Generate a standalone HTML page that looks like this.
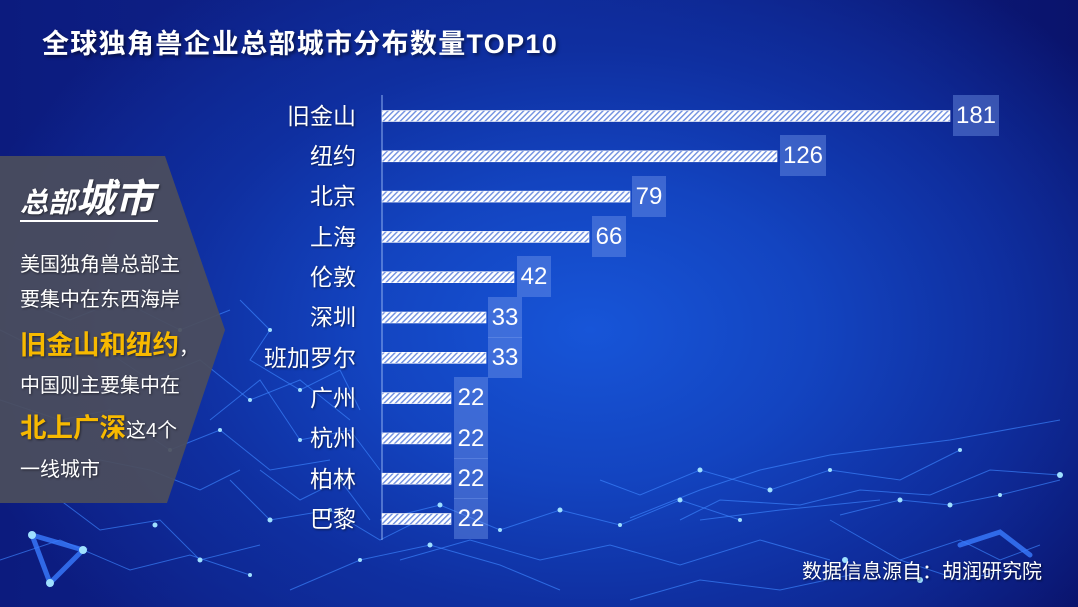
<!DOCTYPE html>
<html>
<head>
<meta charset="utf-8">
<style>
  html, body { margin:0; padding:0; }
  body { width:1078px; height:607px; overflow:hidden; position:relative;
    background:
      radial-gradient(ellipse 640px 430px at 590px 330px, #1755d8 0%, #1344c0 35%, #0f2fa0 65%, rgba(12,28,128,0) 100%),
      linear-gradient(90deg, #0c1b7e 0%, #0f2690 50%, #0a136c 100%);
    font-family: "Liberation Sans", "Noto Sans CJK SC", sans-serif; color:#fff; }
  .abs { position:absolute; white-space:nowrap; }
  .title { left:42px; top:27px; font-size:27px; font-weight:bold; line-height:34px; letter-spacing:1.3px;
    text-shadow: 2px 2px 3px rgba(0,0,0,0.5); }
  .cat { right:722px; font-size:23px; line-height:30px; text-align:right; text-shadow:1px 1px 2px rgba(0,0,0,0.55); }
  .val { font-size:24px; line-height:41px; height:41px; text-align:center; background:rgba(120,155,235,0.42); }
  .ptxt { left:20px; font-size:20px; line-height:26px; text-shadow:1px 1px 2px rgba(0,0,0,0.5); }
  .yel { color:#f7b900; font-weight:bold; font-size:26.5px; }
  .src { left:802px; top:558px; font-size:20px; line-height:28px; text-shadow:1px 1px 2px rgba(0,0,0,0.6); }
</style>
</head>
<body>
<svg class="abs" style="left:0;top:0" width="1078" height="607" viewBox="0 0 1078 607">
  <defs>
    <pattern id="hatch" width="4" height="4" patternUnits="userSpaceOnUse" patternTransform="rotate(45)">
      <rect width="4" height="4" fill="#ffffff"/>
      <rect width="1.4" height="4" fill="#6f8fe0"/>
    </pattern>
  </defs>
  <!-- network lines -->
  <g stroke="#3d86ff" stroke-opacity="0.65" stroke-width="1" fill="none">
    <polyline points="0,330 40,350 90,340 150,380 200,360 250,400 300,380 350,420"/>
    <polyline points="20,300 70,320 120,300 180,330 230,310"/>
    <polyline points="0,400 60,420 110,410 170,450 220,430 270,470 330,460"/>
    <polyline points="210,420 260,380 300,440 350,430 380,470"/>
    <polyline points="230,480 270,520 330,510 380,540 420,520"/>
    <polyline points="240,300 270,330 250,360 300,390 340,370 360,410"/>
    <polyline points="260,470 300,500 340,480 370,520"/>
    <polyline points="60,500 100,530 160,520 200,560 260,545"/>
    <polyline points="0,560 60,540 130,570 190,555 250,575"/>
    <polyline points="380,520 440,505 500,530 560,510 620,525 680,500 740,520"/>
    <polyline points="400,560 470,540 540,560 610,545 680,565 760,540 830,560"/>
    <polyline points="600,480 640,495 700,470 770,490 830,470 900,480 960,450"/>
    <polyline points="680,520 720,500 800,505 860,490 930,495 990,470 1060,475"/>
    <polyline points="830,520 900,560 960,540 1000,560 1040,545"/>
    <polyline points="840,515 900,500 950,505 1000,495 1060,480"/>
    <polyline points="630,600 700,580 780,590 850,575"/>
    <polyline points="900,560 960,580 1010,570"/>
    <polyline points="630,518 700,490 760,470 830,455 950,440 1060,420"/>
    <polyline points="700,520 780,510 880,500"/>
    <polyline points="100,460 150,470 200,490 240,470"/>
    <polyline points="290,590 360,560 430,545 500,565 560,590"/>
  </g>
  <g stroke="#3a7cff" stroke-opacity="0.8" stroke-width="5" fill="none" stroke-linecap="round">
    <polyline points="32,535 50,583 83,550 32,535"/>
    <polyline points="960,545 1000,532 1030,555"/>
  </g>
  <g fill="#9fe0ff">
    <circle cx="32" cy="535" r="4"/><circle cx="50" cy="583" r="4"/><circle cx="83" cy="550" r="4"/>
    <circle cx="155" cy="525" r="2.5"/><circle cx="200" cy="560" r="2.5"/><circle cx="250" cy="575" r="2"/>
    <circle cx="270" cy="520" r="2.5"/><circle cx="330" cy="510" r="2"/><circle cx="440" cy="505" r="2.5"/>
    <circle cx="500" cy="530" r="2"/><circle cx="560" cy="510" r="2.5"/><circle cx="620" cy="525" r="2"/>
    <circle cx="680" cy="500" r="2.5"/><circle cx="740" cy="520" r="2"/><circle cx="700" cy="470" r="2.5"/>
    <circle cx="770" cy="490" r="2.5"/><circle cx="830" cy="470" r="2"/><circle cx="960" cy="450" r="2"/>
    <circle cx="900" cy="500" r="2.5"/><circle cx="950" cy="505" r="2.5"/><circle cx="1000" cy="495" r="2"/>
    <circle cx="1060" cy="475" r="3"/><circle cx="920" cy="580" r="3"/><circle cx="845" cy="560" r="3"/>
    <circle cx="40" cy="350" r="2"/><circle cx="150" cy="380" r="2"/><circle cx="250" cy="400" r="2"/>
    <circle cx="300" cy="440" r="2"/><circle cx="170" cy="450" r="2"/><circle cx="220" cy="430" r="2"/>
    <circle cx="120" cy="300" r="2"/><circle cx="180" cy="330" r="2"/>
    <circle cx="270" cy="330" r="2"/><circle cx="300" cy="390" r="2"/><circle cx="340" cy="480" r="2"/>
    <circle cx="430" cy="545" r="2.5"/><circle cx="360" cy="560" r="2"/>
  </g>
  <!-- left panel -->
  <polygon points="0,156 165,156 225,330 167,503 0,503" fill="#4b4e5c" fill-opacity="0.93"/>
  <line x1="20" y1="221" x2="158" y2="221" stroke="#fff" stroke-width="2"/>
  <!-- axis -->
  <line x1="382" y1="95" x2="382" y2="540" stroke="#8fb0f0" stroke-width="1"/>
  <!-- bars -->
  <g fill="url(#hatch)" stroke="#ffffff" stroke-width="0.6">
    <rect x="382" y="110.5" width="568" height="11"/>
    <rect x="382" y="150.8" width="395" height="11"/>
    <rect x="382" y="191.1" width="248" height="11"/>
    <rect x="382" y="231.4" width="207" height="11"/>
    <rect x="382" y="271.7" width="132" height="11"/>
    <rect x="382" y="312.0" width="104" height="11"/>
    <rect x="382" y="352.3" width="104" height="11"/>
    <rect x="382" y="392.6" width="69" height="11"/>
    <rect x="382" y="432.9" width="69" height="11"/>
    <rect x="382" y="473.2" width="69" height="11"/>
    <rect x="382" y="513.5" width="69" height="11"/>
  </g>
</svg>

<div class="abs title">全球独角兽企业总部城市分布数量TOP10</div>

<!-- category labels -->
<div class="abs cat" style="top:101px">旧金山</div>
<div class="abs cat" style="top:141px">纽约</div>
<div class="abs cat" style="top:181px">北京</div>
<div class="abs cat" style="top:222px">上海</div>
<div class="abs cat" style="top:262px">伦敦</div>
<div class="abs cat" style="top:302px">深圳</div>
<div class="abs cat" style="top:343px">班加罗尔</div>
<div class="abs cat" style="top:383px">广州</div>
<div class="abs cat" style="top:423px">杭州</div>
<div class="abs cat" style="top:464px">柏林</div>
<div class="abs cat" style="top:504px">巴黎</div>

<!-- value boxes -->
<div class="abs val" style="left:953px;top:95px;width:46px">181</div>
<div class="abs val" style="left:780px;top:135px;width:46px">126</div>
<div class="abs val" style="left:632px;top:176px;width:34px">79</div>
<div class="abs val" style="left:592px;top:216px;width:34px">66</div>
<div class="abs val" style="left:517px;top:256px;width:34px">42</div>
<div class="abs val" style="left:488px;top:297px;width:34px">33</div>
<div class="abs val" style="left:488px;top:337px;width:34px">33</div>
<div class="abs val" style="left:454px;top:377px;width:34px">22</div>
<div class="abs val" style="left:454px;top:418px;width:34px">22</div>
<div class="abs val" style="left:454px;top:458px;width:34px">22</div>
<div class="abs val" style="left:454px;top:498px;width:34px">22</div>

<!-- left panel text -->
<div class="abs" style="left:20px;top:179px;line-height:42px;font-weight:bold;font-style:italic;text-shadow:1px 1px 2px rgba(0,0,0,0.5)"><span style="font-size:28px">总部</span><span style="font-size:39px">城市</span></div>
<div class="abs ptxt" style="top:252px">美国独角兽总部主</div>
<div class="abs ptxt" style="top:287px">要集中在东西海岸</div>
<div class="abs ptxt" style="top:328px;line-height:34px"><span class="yel">旧金山和纽约</span>，</div>
<div class="abs ptxt" style="top:373px">中国则主要集中在</div>
<div class="abs ptxt" style="top:411px;line-height:34px"><span class="yel">北上广深</span>这4个</div>
<div class="abs ptxt" style="top:457px">一线城市</div>

<div class="abs src">数据信息源自：胡润研究院</div>
</body>
</html>
